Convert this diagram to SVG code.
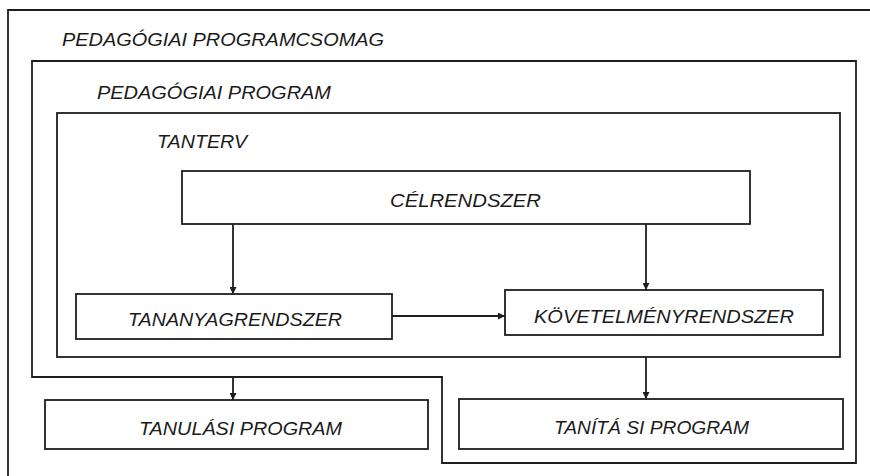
<svg xmlns="http://www.w3.org/2000/svg" width="870" height="476" viewBox="0 0 870 476">
<style>
.ln{fill:none;stroke:#1e1e1e;stroke-width:1.8}
.bx{fill:#ffffff;stroke:#1e1e1e;stroke-width:1.8}
.t{font-family:"Liberation Sans",Arial,sans-serif;font-style:italic;font-size:19px;fill:#1a1a1a}
</style>
<defs>
<marker id="ah" viewBox="0 0 10 10" refX="10" refY="5" markerWidth="7" markerHeight="7" markerUnits="userSpaceOnUse" orient="auto">
<path d="M0,0 L10,5 L0,10 z" fill="#1e1e1e"/>
</marker>
</defs>
<rect width="870" height="476" fill="#ffffff"/>
<g id="pedagogiai-programcsomag">
<path class="ln" d="M8,476 V10 H870"/>
<text class="t" x="62" y="46" textLength="322" lengthAdjust="spacingAndGlyphs">PEDAGÓGIAI PROGRAMCSOMAG</text>
</g>
<g id="pedagogiai-program">
<path class="ln" d="M32,61 H856 V463 H442 V377 H32 Z"/>
<text class="t" x="97" y="99" textLength="234" lengthAdjust="spacingAndGlyphs">PEDAGÓGIAI PROGRAM</text>
</g>
<g id="tanterv">
<rect class="ln" x="57" y="113" width="783" height="244"/>
<text class="t" x="157" y="148" textLength="90" lengthAdjust="spacingAndGlyphs">TANTERV</text>
</g>
<g id="celrendszer">
<rect class="bx" x="182" y="171" width="568" height="53"/>
<text class="t" x="390" y="207" textLength="151" lengthAdjust="spacingAndGlyphs">CÉLRENDSZER</text>
</g>
<g id="tananyagrendszer">
<rect class="bx" x="76" y="294" width="316" height="45"/>
<text class="t" x="128" y="326" textLength="214" lengthAdjust="spacingAndGlyphs">TANANYAGRENDSZER</text>
</g>
<g id="kovetelmenyrendszer">
<rect class="bx" x="505" y="290" width="318" height="45"/>
<text class="t" x="534" y="323" textLength="260" lengthAdjust="spacingAndGlyphs">KÖVETELMÉNYRENDSZER</text>
</g>
<g id="tanulasi-program">
<rect class="bx" x="45" y="400" width="383" height="49"/>
<text class="t" x="139" y="435" textLength="203" lengthAdjust="spacingAndGlyphs">TANULÁSI PROGRAM</text>
</g>
<g id="tanitasi-program">
<rect class="bx" x="459" y="399" width="384" height="50"/>
<text class="t" x="554" y="434" textLength="195" lengthAdjust="spacingAndGlyphs">TANÍTÁ SI PROGRAM</text>
</g>
<g id="connectors">
<path class="ln" d="M233,224 V294" marker-end="url(#ah)"/>
<path class="ln" d="M646,224 V290" marker-end="url(#ah)"/>
<path class="ln" d="M392,316 H505" marker-end="url(#ah)"/>
<path class="ln" d="M233,377 V400" marker-end="url(#ah)"/>
<path class="ln" d="M646,357 V399" marker-end="url(#ah)"/>
</g>
</svg>
